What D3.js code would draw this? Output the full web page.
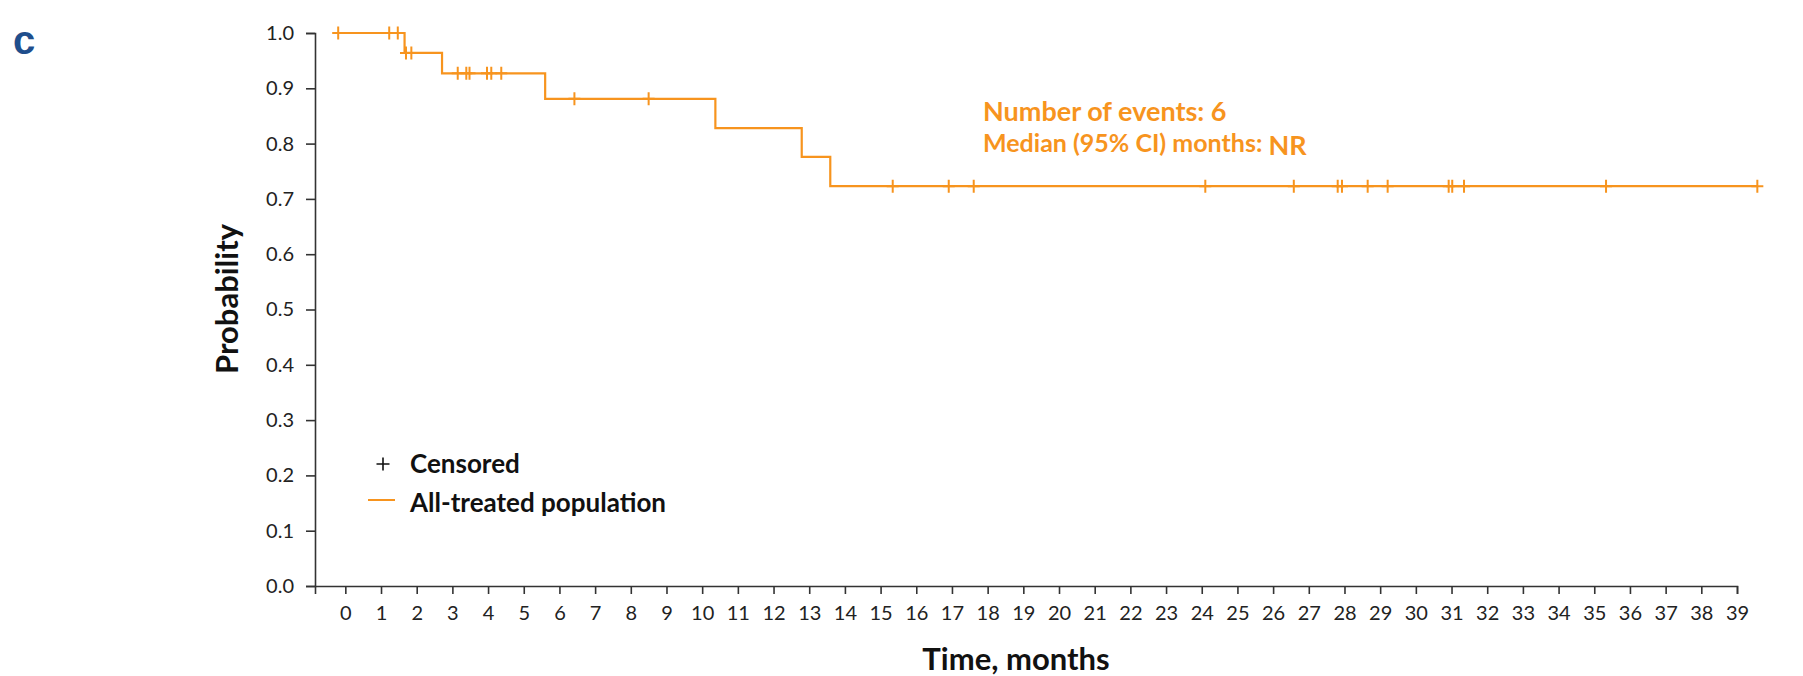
<!DOCTYPE html>
<html>
<head>
<meta charset="utf-8">
<script src="https://cdn.jsdelivr.net/npm/d3@7"></script>
<style>
  body { margin: 0; background: #fff; }
</style>
</head>
<body>
<div id="grafica"></div>
<script>
// Kaplan-Meier, all-treated population
const eventTimes = [1.66, 2.71, 5.6, 10.37, 12.79, 13.59]
const survival = [1.0, 0.964, 0.927, 0.881, 0.828, 0.776, 0.723]
const censorTimes = [-0.2, 1.23, 1.47, 1.7, 1.85, 3.15, 3.39, 3.48, 3.97, 4.09, 4.37,
  6.42, 8.5, 15.34, 16.91, 17.61, 24.1, 26.58, 27.81, 27.93, 28.65, 29.21,
  30.92, 31.02, 31.35, 35.33, 39.57]
const curveStart = -0.2
const curveEnd = 39.57
const xTicks = d3.range(0, 40)
const yTicks = d3.range(0, 11).map((d) => d / 10)
const eventCount = 6
const medianText = "NR"

const anchoTotal = 1803
const altoTotal = 676
const margins = { top: 33, right: 66, bottom: 90, left: 315 }
const ancho = anchoTotal - margins.left - margins.right
const alto = altoTotal - margins.top - margins.bottom
const naranja = "#f7941e"
const fuente = "Lato, 'Open Sans', sans-serif"

const svg = d3
  .select("#grafica")
  .append("svg")
  .attr("width", anchoTotal)
  .attr("height", altoTotal)
  .attr("font-family", fuente)

const g = svg
  .append("g")
  .attr("transform", `translate(${margins.left}, ${margins.top})`)

const x = d3.scaleLinear().domain([-0.85, 39]).range([0, ancho])
const y = d3.scaleLinear().domain([0, 1]).range([alto, 0])

// ejes
const xAxis = d3
  .axisBottom(x)
  .tickValues(xTicks)
  .tickFormat(d3.format("d"))
  .tickSize(8)
  .tickSizeOuter(8)
  .tickPadding(12)
const yAxis = d3
  .axisLeft(y)
  .tickValues(yTicks)
  .tickFormat(d3.format(".1f"))
  .tickSize(9)
  .tickSizeOuter(9)
  .tickPadding(12)

const xAxisGroup = g
  .append("g")
  .attr("transform", `translate(0, ${alto})`)
  .call(xAxis)
const yAxisGroup = g.append("g").call(yAxis)

;[xAxisGroup, yAxisGroup].forEach((ax) => {
  ax.attr("font-family", fuente).attr("font-size", 20)
  ax.selectAll("path, line").attr("stroke", "#333").attr("stroke-width", 1.6)
  ax.selectAll("text").attr("fill", "#222")
})

// curva
const stepLevel = (t) => survival[eventTimes.filter((e) => e <= t).length]
const puntos = [[curveStart, survival[0]]]
eventTimes.forEach((e, i) => puntos.push([e, survival[i + 1]]))
puntos.push([curveEnd, survival[survival.length - 1]])

const linea = d3
  .line()
  .x((d) => x(d[0]))
  .y((d) => y(d[1]))
  .curve(d3.curveStepAfter)

g.append("path")
  .datum(puntos)
  .attr("d", linea)
  .attr("fill", "none")
  .attr("stroke", naranja)
  .attr("stroke-width", 2.2)

const cruz = (cx, cy, h, v) => `M${cx - h},${cy}H${cx + h}M${cx},${cy - v}V${cy + v}`

g.selectAll(".censor")
  .data(censorTimes)
  .enter()
  .append("path")
  .attr("class", "censor")
  .attr("d", (d) => cruz(x(d), y(stepLevel(d)), 6, 6.5))
  .attr("fill", "none")
  .attr("stroke", naranja)
  .attr("stroke-width", 2)

// anotacion
const nota = svg
  .append("g")
  .attr("fill", naranja)
  .attr("font-weight", "bold")
nota
  .append("text")
  .attr("x", 983)
  .attr("y", 121)
  .attr("font-size", 27)
  .text(`Number of events: ${eventCount}`)
const mediana = nota.append("text").attr("x", 983).attr("y", 152).attr("font-size", 25)
mediana.append("tspan").text("Median (95% CI) months: ")
mediana.append("tspan").attr("font-size", 27).attr("dy", 3).text(medianText)

// leyenda
const leyenda = svg.append("g").attr("font-weight", "bold").attr("font-size", 26).attr("fill", "#111")
leyenda
  .append("path")
  .attr("d", cruz(383, 464, 6.5, 6.5))
  .attr("stroke", "#111")
  .attr("stroke-width", 1.6)
leyenda.append("text").attr("x", 410).attr("y", 473).text("Censored")
leyenda
  .append("line")
  .attr("x1", 368)
  .attr("x2", 395)
  .attr("y1", 500)
  .attr("y2", 500)
  .attr("stroke", naranja)
  .attr("stroke-width", 2)
leyenda.append("text").attr("x", 410).attr("y", 512).text("All-treated population")

// titulos
svg
  .append("text")
  .attr("x", margins.left + ancho / 2 - 10)
  .attr("y", 670)
  .attr("text-anchor", "middle")
  .attr("font-weight", "bold")
  .attr("font-size", 31)
  .attr("fill", "#111")
  .text("Time, months")
svg
  .append("text")
  .attr("transform", "translate(238, 299) rotate(-90)")
  .attr("text-anchor", "middle")
  .attr("font-weight", "bold")
  .attr("font-size", 31)
  .attr("fill", "#111")
  .text("Probability")
svg
  .append("text")
  .attr("x", 13)
  .attr("y", 54)
  .attr("font-family", "'Liberation Sans', Arial, sans-serif")
  .attr("font-weight", "bold")
  .attr("font-size", 40)
  .attr("fill", "#1f4e8c")
  .text("c")
</script>
</body>
</html>
